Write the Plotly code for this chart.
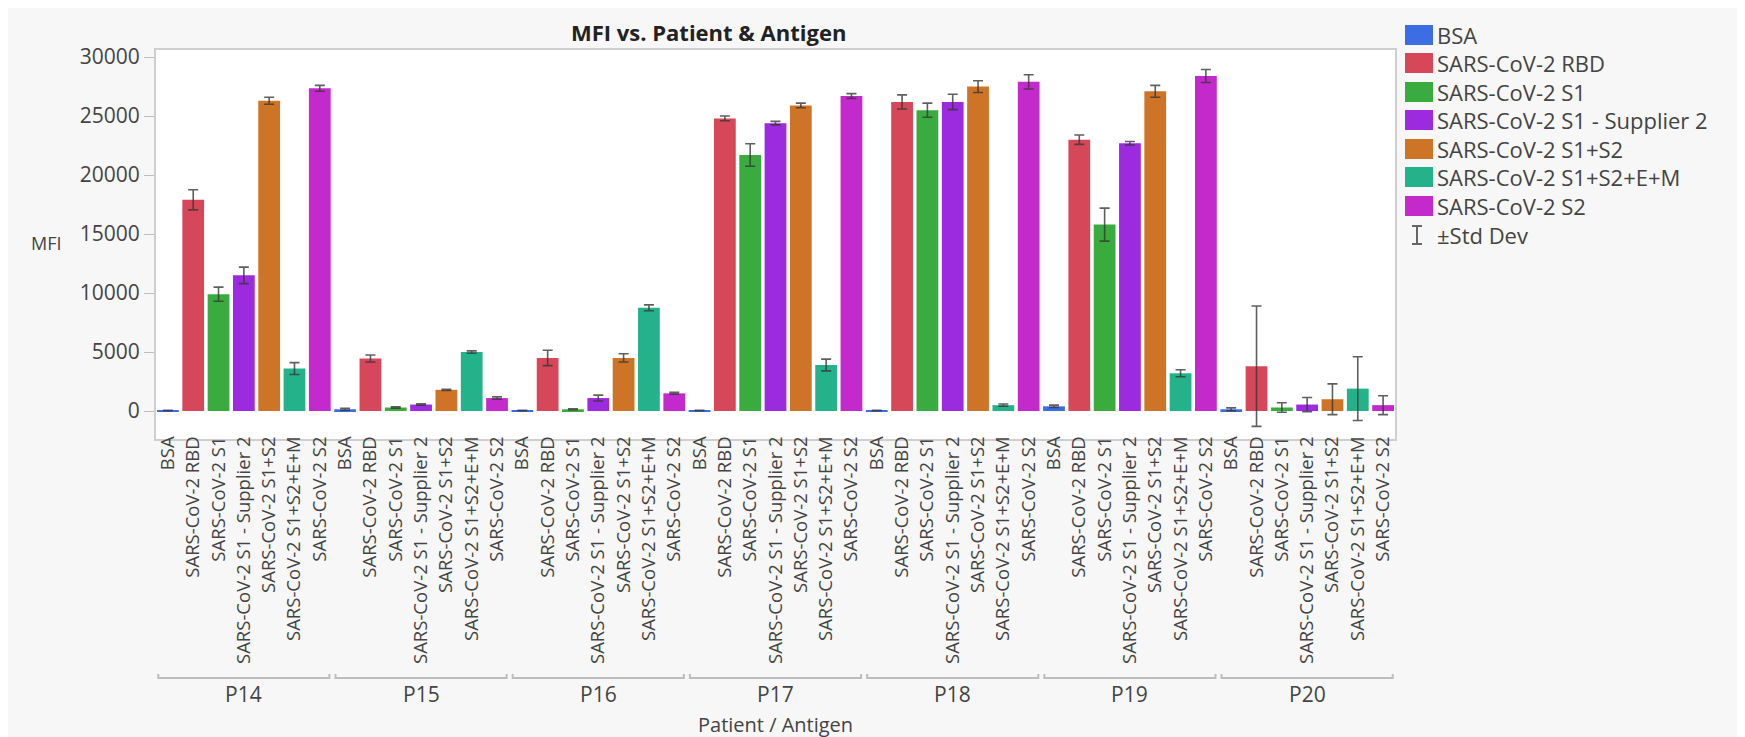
import plotly.graph_objects as go

# ---------------- data ----------------
patients = ["P14", "P15", "P16", "P17", "P18", "P19", "P20"]
antigens = ["BSA", "SARS-CoV-2 RBD", "SARS-CoV-2 S1", "SARS-CoV-2 S1 - Supplier 2",
            "SARS-CoV-2 S1+S2", "SARS-CoV-2 S1+S2+E+M", "SARS-CoV-2 S2"]

# mean MFI per patient (P14..P20) for each antigen
mfi_bsa = [50, 150, 50, 50, 50, 400, 150]
mfi_rbd = [17900, 4450, 4500, 24800, 26200, 23000, 3800]
mfi_s1 = [9900, 300, 150, 21700, 25500, 15800, 300]
mfi_s1_sup2 = [11500, 550, 1100, 24400, 26200, 22700, 550]
mfi_s1s2 = [26300, 1800, 4500, 25900, 27500, 27100, 1000]
mfi_s1s2em = [3600, 5000, 8750, 3900, 500, 3200, 1900]
mfi_s2 = [27350, 1100, 1500, 26700, 27900, 28400, 500]

# standard deviations
sd_bsa = [20, 80, 20, 20, 20, 100, 120]
sd_rbd = [850, 300, 650, 200, 600, 400, 5100]
sd_s1 = [600, 50, 40, 950, 600, 1400, 400]
sd_s1_sup2 = [700, 60, 250, 150, 650, 150, 600]
sd_s1s2 = [300, 50, 350, 200, 500, 500, 1300]
sd_s1s2em = [500, 100, 250, 500, 100, 300, 2700]
sd_s2 = [250, 100, 80, 200, 600, 550, 800]

means = [mfi_bsa, mfi_rbd, mfi_s1, mfi_s1_sup2, mfi_s1s2, mfi_s1s2em, mfi_s2]
sds = [sd_bsa, sd_rbd, sd_s1, sd_s1_sup2, sd_s1s2, sd_s1s2em, sd_s2]

colors = ["#3d6de3", "#d6475a", "#3aab3e", "#9c2ade", "#cd7427", "#24b28b", "#c42acb"]

y_ticks = [0, 5000, 10000, 15000, 20000, 25000, 30000]
y_tick_text = ["0", "5000", "10000", "15000", "20000", "25000", "30000"]

# ---------------- layout constants ----------------
W, H = 1745, 737
L, R, T, B = 148, 1745 - 1387, 42, 737 - 431
PW, PH = W - L - R, H - T - B
FONT = "Open Sans"
TXT = "#444444"


def px_x(px):
    return (px - L) / PW


def px_y(py):
    return (H - B - py) / PH


n_ant = len(antigens)
fig = go.Figure()

for a, name in enumerate(antigens):
    xs = [p * n_ant + a for p in range(len(patients))]
    fig.add_trace(go.Bar(
        x=xs, y=means[a], name=name, width=0.86,
        marker=dict(color=colors[a], line=dict(width=0)),
        error_y=dict(type="data", array=sds[a], visible=True,
                     color="rgba(55,55,55,0.8)", thickness=1.6, width=5),
        showlegend=False,
    ))

tick_vals = [p * n_ant + a for p in range(len(patients)) for a in range(n_ant)]
tick_text = [antigens[a] for p in range(len(patients)) for a in range(n_ant)]

shapes = []
annotations = []

# patient group brackets and labels
for p, pname in enumerate(patients):
    x0 = p * n_ant - 0.38
    x1 = p * n_ant + n_ant - 1 + 0.38
    yb = px_y(670)
    yt = px_y(666)
    shapes.append(dict(type="path", xref="x", yref="paper",
                       path=f"M {x0},{yt} L {x0},{yb} L {x1},{yb} L {x1},{yt}",
                       line=dict(color="#bdbdbd", width=2)))
    annotations.append(dict(text=pname, xref="x", yref="paper",
                            x=p * n_ant + (n_ant - 1) / 2, y=px_y(686),
                            showarrow=False, xanchor="center", yanchor="middle",
                            font=dict(family=FONT, size=21, color=TXT)))

# axis titles
annotations.append(dict(text="Patient / Antigen", xref="paper", yref="paper",
                        x=0.5, y=px_y(716), showarrow=False,
                        xanchor="center", yanchor="middle",
                        font=dict(family=FONT, size=20, color=TXT)))
annotations.append(dict(text="MFI", xref="paper", yref="paper",
                        x=px_x(38), y=px_y(235), showarrow=False,
                        xanchor="center", yanchor="middle",
                        font=dict(family=FONT, size=18, color=TXT)))

# title
annotations.append(dict(text="<b>MFI vs. Patient & Antigen</b>", xref="paper", yref="paper",
                        x=px_x(700), y=px_y(24), showarrow=False,
                        xanchor="center", yanchor="middle",
                        font=dict(family=FONT, size=22, color="#222222")))

# manual legend
row_y = [27, 55, 84, 112, 141, 169, 198]
for a, name in enumerate(antigens):
    cy = row_y[a]
    shapes.append(dict(type="rect", xref="paper", yref="paper",
                       x0=px_x(1397), x1=px_x(1425), y0=px_y(cy - 10), y1=px_y(cy + 10),
                       fillcolor=colors[a], line=dict(width=0)))
    annotations.append(dict(text=name, xref="paper", yref="paper",
                            x=px_x(1427), y=px_y(cy), showarrow=False,
                            xanchor="left", yanchor="middle",
                            font=dict(family=FONT, size=22, color=TXT)))
sy = 227
for seg in [((1409, sy - 9), (1409, sy + 9)), ((1404, sy - 9), (1414, sy - 9)),
            ((1404, sy + 9), (1414, sy + 9))]:
    shapes.append(dict(type="line", xref="paper", yref="paper",
                       x0=px_x(seg[0][0]), y0=px_y(seg[0][1]),
                       x1=px_x(seg[1][0]), y1=px_y(seg[1][1]),
                       line=dict(color="#666666", width=2)))
annotations.append(dict(text="±Std Dev", xref="paper", yref="paper",
                        x=px_x(1427), y=px_y(sy), showarrow=False,
                        xanchor="left", yanchor="middle",
                        font=dict(family=FONT, size=22, color=TXT)))

fig.update_layout(
    width=W, height=H,
    margin=dict(l=L, r=R, t=T, b=B, autoexpand=False),
    paper_bgcolor="#f7f7f7",
    plot_bgcolor="#ffffff",
    barmode="overlay",
    showlegend=False,
    xaxis=dict(range=[-0.47, len(tick_vals) - 1 + 0.47],
               tickmode="array", tickvals=tick_vals, ticktext=tick_text,
               tickangle=-90, ticks="", showgrid=False, zeroline=False,
               ticklabelstandoff=-12,
               showline=True, mirror=True, linecolor="#cfcfcf", linewidth=2,
               tickfont=dict(family=FONT, size=18.5, color=TXT)),
    yaxis=dict(range=[-2370, 30600], tickmode="array", tickvals=y_ticks,
               ticktext=y_tick_text,
               ticks="outside", ticklen=10, tickcolor="#bdbdbd", tickwidth=1,
               showgrid=False, zeroline=False,
               showline=True, mirror=True, linecolor="#cfcfcf", linewidth=2,
               tickfont=dict(family=FONT, size=21, color=TXT)),
    shapes=shapes,
    annotations=annotations,
)

fig.write_html("out.html")
